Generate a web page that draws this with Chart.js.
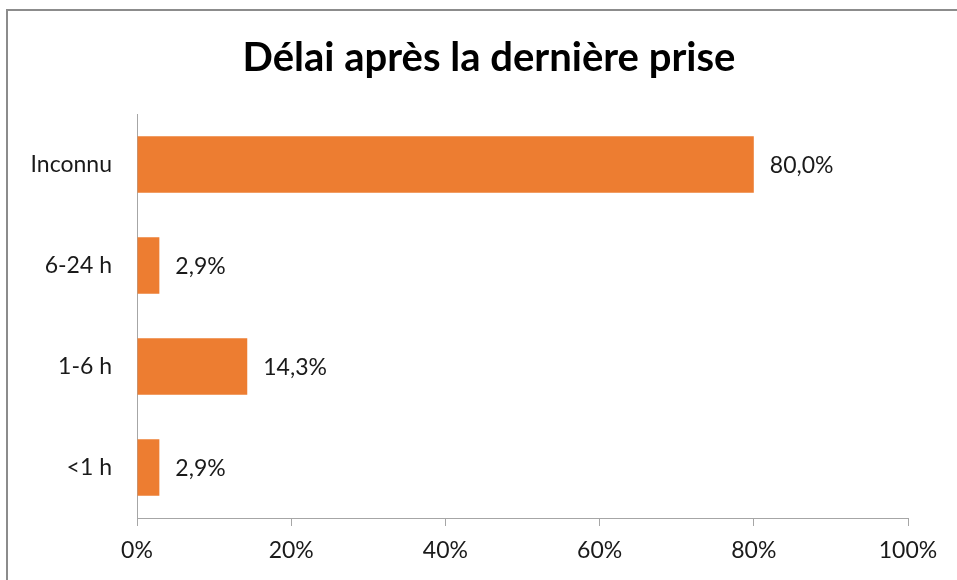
<!DOCTYPE html>
<html>
<head>
<meta charset="utf-8">
<script src="https://cdn.jsdelivr.net/npm/chart.js@4"></script>
<style>
  html, body { margin: 0; padding: 0; background: #ffffff; overflow: hidden; }
  #wrap { position: relative; width: 957px; height: 580px; }
</style>
</head>
<body>
<div id="wrap"><canvas id="c" width="957" height="580"></canvas></div>
<script>
// Délai après la dernière prise — share of cases per delay bucket
const categories = ['Inconnu', '6-24 h', '1-6 h', '<1 h'];
const shares = [80.0, 2.9, 14.3, 2.9];
const tickValues = [0, 20, 40, 60, 80, 100];
const chartTitle = 'Délai après la dernière prise';

const FONT = 'Lato, "Open Sans", sans-serif';
const BAR_COLOR = '#ED7D31';
const AXIS_COLOR = '#a6a6a6';
const TEXT_COLOR = '#1a1a1a';

// outer frame and centred title of the chart
const framePlugin = {
  id: 'frame',
  beforeDraw(chart) {
    const ctx = chart.ctx;
    ctx.save();
    ctx.fillStyle = '#ffffff';
    ctx.fillRect(0, 0, chart.width, chart.height);
    ctx.strokeStyle = '#8c8c8c';
    ctx.lineWidth = 2;
    ctx.strokeRect(7, 10, chart.width + 20, chart.height + 20);
    ctx.font = 'bold 40px ' + FONT;
    ctx.fillStyle = '#000000';
    ctx.textAlign = 'center';
    ctx.textBaseline = 'middle';
    ctx.fillText(chartTitle, 489, 58);
    ctx.restore();
  }
};

// percentage label to the right of each bar
const valueLabels = {
  id: 'valueLabels',
  afterDatasetsDraw(chart) {
    const ctx = chart.ctx;
    const meta = chart.getDatasetMeta(0);
    ctx.save();
    ctx.font = '23px ' + FONT;
    ctx.fillStyle = TEXT_COLOR;
    ctx.textAlign = 'left';
    ctx.textBaseline = 'middle';
    meta.data.forEach((bar, i) => {
      const txt = shares[i].toFixed(1).replace('.', ',') + '%';
      ctx.fillText(txt, bar.x + 16, bar.y + 1);
    });
    ctx.restore();
  }
};

new Chart(document.getElementById('c'), {
  type: 'bar',
  data: {
    labels: categories,
    datasets: [{
      data: shares,
      backgroundColor: BAR_COLOR,
      borderWidth: 0,
      barPercentage: 0.56,
      categoryPercentage: 1.0
    }]
  },
  options: {
    indexAxis: 'y',
    responsive: false,
    animation: false,
    devicePixelRatio: 1,
    layout: { padding: { top: 114, right: 49, bottom: 0, left: 0 } },
    plugins: {
      legend: { display: false },
      tooltip: { enabled: false },
      title: { display: false }
    },
    scales: {
      x: {
        min: 0,
        max: 100,
        afterBuildTicks(scale) {
          scale.ticks = tickValues.map(v => ({ value: v }));
        },
        afterFit(scale) { scale.height = 62; },
        grid: {
          drawOnChartArea: false,
          drawTicks: true,
          tickLength: 8,
          color: AXIS_COLOR
        },
        border: { display: true, color: AXIS_COLOR, width: 1 },
        ticks: {
          padding: 11,
          color: TEXT_COLOR,
          font: { family: FONT, size: 23 },
          callback: v => v + '%'
        }
      },
      y: {
        afterFit(scale) { scale.width = 137; },
        grid: { display: true, drawOnChartArea: false, drawTicks: false, color: AXIS_COLOR },
        border: { display: true, color: AXIS_COLOR, width: 1 },
        ticks: {
          padding: 25,
          color: TEXT_COLOR,
          font: { family: FONT, size: 23 }
        }
      }
    }
  },
  plugins: [framePlugin, valueLabels]
});
</script>
</body>
</html>
